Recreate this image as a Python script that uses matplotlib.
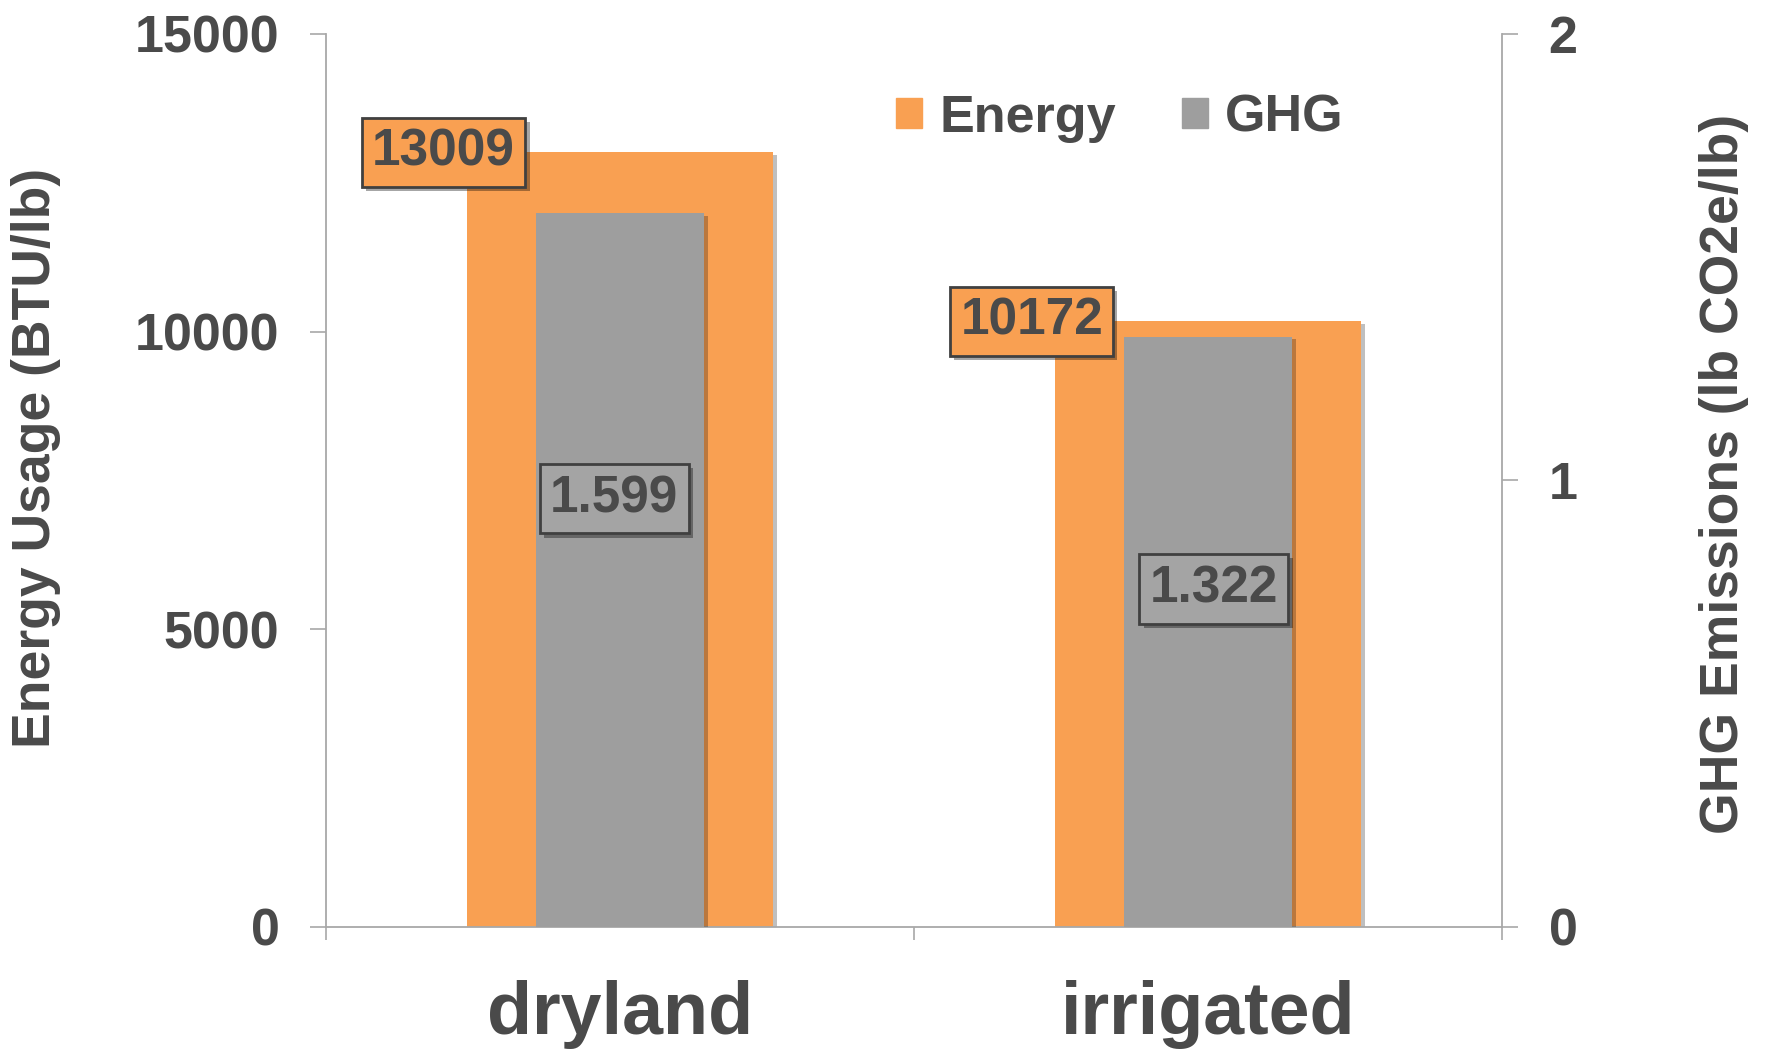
import matplotlib
matplotlib.use('Agg')
import matplotlib.pyplot as plt
import matplotlib.patheffects as pe
from matplotlib.patches import Patch
import numpy as np

categories = ['dryland', 'irrigated']
energy = [13009, 10172]      # BTU/lb
ghg = [1.599, 1.322]         # lb CO2e/lb

# where the GHG value boxes sit: (x offset from category, fraction of bar height)
ghg_label_pos = [(-0.01, 0.60), (0.01, 0.573)]

ORANGE = '#F9A052'
GRAY = '#9E9E9E'
GRAY_BOX = '#A4A4A4'
TXT = '#4A4A4A'
SPINE = '#A8A8A8'

plt.rcParams['font.family'] = ['Liberation Sans', 'DejaVu Sans']
plt.rcParams['font.weight'] = 'bold'

fig = plt.figure(figsize=(17.69, 10.54), dpi=100)
ax = fig.add_axes([0.1843, 0.1205, 0.6648, 0.8473])
ax2 = ax.twinx()

bar_shadow = [pe.withSimplePatchShadow(offset=(3, -2), shadow_rgbFace='k', alpha=0.25)]
box_shadow = [pe.withSimplePatchShadow(offset=(3, -3), shadow_rgbFace='k', alpha=0.35)]

x = np.arange(len(categories))
ax.bar(x, energy, width=0.52, color=ORANGE, zorder=2, path_effects=bar_shadow)
ax2.bar(x, ghg, width=0.286, color=GRAY, zorder=2, path_effects=bar_shadow)

ax.set_xlim(-0.5, 1.5)
ax.set_ylim(0, 15000)
ax2.set_ylim(0, 2)
ax.set_yticks([0, 5000, 10000, 15000])
ax2.set_yticks([0, 1, 2])

# axes lines
for s in ['top', 'right']:
    ax.spines[s].set_visible(False)
for s in ['top', 'left', 'bottom']:
    ax2.spines[s].set_visible(False)
for a, s in [(ax, 'left'), (ax, 'bottom'), (ax2, 'right')]:
    a.spines[s].set_color(SPINE)
    a.spines[s].set_linewidth(1.3)

ax.tick_params(axis='y', direction='out', length=11.5, width=1.2, color=SPINE,
               pad=22, labelsize=37.5, labelcolor=TXT)
ax2.tick_params(axis='y', direction='out', length=11.5, width=1.2, color=SPINE,
                pad=22, labelsize=37.5, labelcolor=TXT)

ax.set_xticks(x, categories)
ax.set_xticks([-0.5, 0.5, 1.5], minor=True)
ax.tick_params(axis='x', which='major', length=0, pad=38, labelsize=53, labelcolor=TXT)
ax.tick_params(axis='x', which='minor', direction='out', length=9.5, width=1.2, color=SPINE)

# value labels
for i in range(len(categories)):
    t = ax2.text(x[i] - 0.30, energy[i], f'{energy[i]}', transform=ax.transData,
                 ha='center', va='center', fontsize=37, color=TXT, zorder=5,
                 bbox=dict(boxstyle='square,pad=0.2', fc=ORANGE, ec='#404040', lw=2))
    t.get_bbox_patch().set_path_effects(box_shadow)
    dx, frac = ghg_label_pos[i]
    t = ax2.text(x[i] + dx, ghg[i] * frac, f'{ghg[i]:.3f}',
                 ha='center', va='center', fontsize=37, color=TXT, zorder=5,
                 bbox=dict(boxstyle='square,pad=0.2', fc=GRAY_BOX, ec='#404040', lw=2))
    t.get_bbox_patch().set_path_effects(box_shadow)

fig.text(0.0204, 0.5655, 'Energy Usage (BTU/lb)', rotation=90, ha='center', va='center',
         fontsize=38.5, color=TXT)
fig.text(0.9746, 0.550, 'GHG Emissions (lb CO2e/lb)', rotation=90, ha='center', va='center',
         fontsize=38.5, color=TXT)

handles = [Patch(color=ORANGE, label='Energy'), Patch(color=GRAY, label='GHG')]
ax2.legend(handles=handles, loc='center', bbox_to_anchor=(0.633, 0.888),
           bbox_transform=fig.transFigure, ncol=2, frameon=False, fontsize=37.5,
           handlelength=0.5, handleheight=0.5, handletextpad=0.33, columnspacing=1.27,
           labelcolor=TXT)

fig.savefig('out.png', dpi=100, facecolor='white')
